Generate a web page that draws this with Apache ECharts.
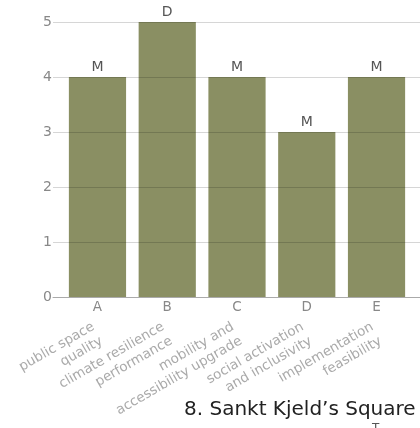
<!DOCTYPE html>
<html>
<head>
<meta charset="utf-8">
<script src="https://cdn.jsdelivr.net/npm/echarts@6/dist/echarts.min.js"></script>
<style>
html,body{margin:0;padding:0;background:#fff;}
#chart{width:420px;height:428px;}
</style>
</head>
<body>
<div id="chart"></div>
<script>
const categories = ['A', 'B', 'C', 'D', 'E'];
const descriptions = [
  'public space\nquality',
  'climate resilience\nperformance',
  'mobility and\naccessibility upgrade',
  'social activation\nand inclusivity',
  'implementation\nfeasibility'
];
const values = [4, 5, 4, 3, 4];
const grades = ['M', 'D', 'M', 'M', 'M'];
const yTicks = [0, 1, 2, 3, 4, 5];
const titleText = '8. Sankt Kjeld\u2019s Square';

const FONT = 'DejaVu Sans';
const chart = echarts.init(document.getElementById('chart'), null, {renderer: 'canvas'});
const yMin = yTicks[0], yMax = yTicks[yTicks.length - 1];

chart.setOption({
  animation: false,
  backgroundColor: '#ffffff',
  title: {
    text: titleText,
    left: 179,
    top: 395,
    textStyle: {fontFamily: FONT, fontSize: 20, fontWeight: 'normal', color: '#222'}
  },
  graphic: [{
    type: 'text', left: 372, top: 423,
    style: {text: 'T', font: '12px "' + FONT + '"', fill: '#555'}
  }],
  grid: [
    {left: 53, right: 0, top: 22, bottom: 131},
    {left: 62.6, width: 348.8, top: 22, bottom: 131}
  ],
  xAxis: [
    {
      type: 'category', gridIndex: 0, data: categories,
      axisLine: {show: true, lineStyle: {color: '#aaa', width: 1}},
      axisTick: {show: false}, axisLabel: {show: false}, splitLine: {show: false}, z: 10
    },
    {
      type: 'category', gridIndex: 1, data: categories,
      axisLine: {show: false}, axisTick: {show: false},
      axisLabel: {margin: 3, fontFamily: FONT, fontSize: 13.5, color: '#888'}
    },
    {
      type: 'category', gridIndex: 1, data: descriptions, position: 'bottom', offset: 28,
      axisLine: {show: false}, axisTick: {show: false},
      axisLabel: {rotate: 30, margin: 8, fontFamily: FONT, fontSize: 13.5, color: '#aaa', lineHeight: 16.5, interval: 0}
    }
  ],
  yAxis: [
    {
      type: 'value', gridIndex: 0, min: yMin, max: yMax, interval: 1, z: 10,
      axisLine: {show: false}, axisTick: {show: false},
      axisLabel: {margin: 1, fontFamily: FONT, fontSize: 14, color: '#888'},
      splitLine: {show: true, lineStyle: {color: 'rgba(0,0,0,0.16)', width: 1}}
    },
    {
      type: 'value', gridIndex: 1, min: yMin, max: yMax, interval: 1, show: false,
      splitLine: {show: false}
    }
  ],
  series: [{
    type: 'bar', xAxisIndex: 1, yAxisIndex: 1,
    data: values, barWidth: '82%',
    itemStyle: {color: '#8a8f63'},
    label: {
      show: true, position: 'top', distance: 3,
      fontFamily: FONT, fontSize: 14, color: '#555',
      formatter: p => grades[p.dataIndex]
    }
  }]
});
</script>
</body>
</html>
